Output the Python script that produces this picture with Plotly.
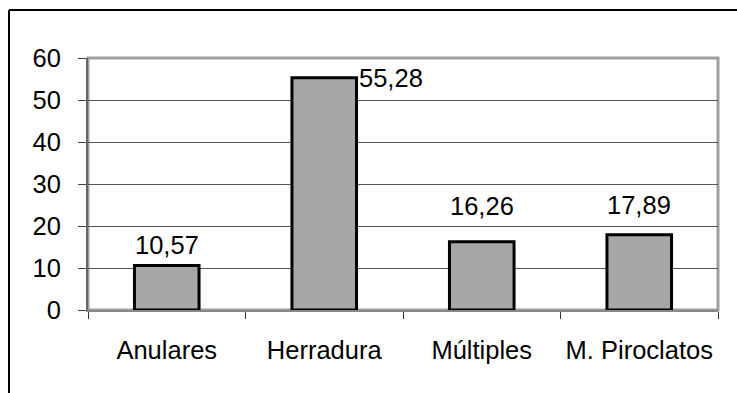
import plotly.graph_objects as go

categories = ["Anulares", "Herradura", "Múltiples", "M. Piroclatos"]
values = [10.57, 55.28, 16.26, 17.89]
y_ticks = [0, 10, 20, 30, 40, 50, 60]

FONT = "Liberation Sans, Arial, sans-serif"
SIZE = 25.5
# pixel lift of each value label above its bar top
label_lift = [5, 0, 20, 14]


def fmt(v):
    return f"{v:.2f}".replace(".", ",")


fig = go.Figure(
    go.Bar(
        x=categories,
        y=values,
        marker=dict(color="#a6a7a6", line=dict(color="#000000", width=3)),
        width=0.41,
        hoverinfo="skip",
    )
)

# value labels above the bars; the tall bar gets its label beside its top edge
annotations = []
for cat, v, lift in zip(categories, values, label_lift):
    if v > 50:
        annotations.append(dict(x=cat, y=v, text=fmt(v), showarrow=False,
                                xanchor="left", yanchor="middle", xshift=33,
                                font=dict(family=FONT, size=SIZE, color="#000")))
    else:
        annotations.append(dict(x=cat, y=v, text=fmt(v), showarrow=False,
                                xanchor="center", yanchor="bottom", yshift=lift,
                                font=dict(family=FONT, size=SIZE, color="#000")))

shapes = [
    # plot area border
    dict(type="rect", xref="paper", yref="paper", x0=0, y0=0, x1=1, y1=1,
         line=dict(color="#a0a0a0", width=3), layer="below"),
    # outer chart frame (left and top edges)
    dict(type="line", xref="paper", yref="paper", x0=-0.1254, y0=-0.35,
         x1=-0.1254, y1=1.1905, line=dict(color="#000", width=2)),
    dict(type="line", xref="paper", yref="paper", x0=-0.1254, y0=1.1905,
         x1=1.05, y1=1.1905, line=dict(color="#000", width=2)),
]

fig.update_layout(
    width=737, height=393,
    margin=dict(l=88, r=19, t=58, b=83),
    paper_bgcolor="white", plot_bgcolor="white",
    showlegend=False,
    bargap=0.59,
    annotations=annotations,
    shapes=shapes,
    font=dict(family=FONT, size=SIZE, color="#000"),
    xaxis=dict(
        type="category", tickson="boundaries", ticks="outside", ticklen=7,
        tickcolor="#333", tickwidth=1, showgrid=False,
        showline=True, linecolor="#888", linewidth=2,
        tickfont=dict(family=FONT, size=SIZE, color="#000"),
        ticklabelstandoff=16,
    ),
    yaxis=dict(
        range=[0, 60], tickvals=y_ticks, ticks="outside", ticklen=8,
        tickcolor="#444", tickwidth=1,
        showgrid=True, gridcolor="#555", gridwidth=1,
        showline=True, linecolor="#666", linewidth=2, zeroline=False,
        tickfont=dict(family=FONT, size=SIZE, color="#000"),
        ticklabelstandoff=12,
    ),
)

fig.write_html("out.html")
